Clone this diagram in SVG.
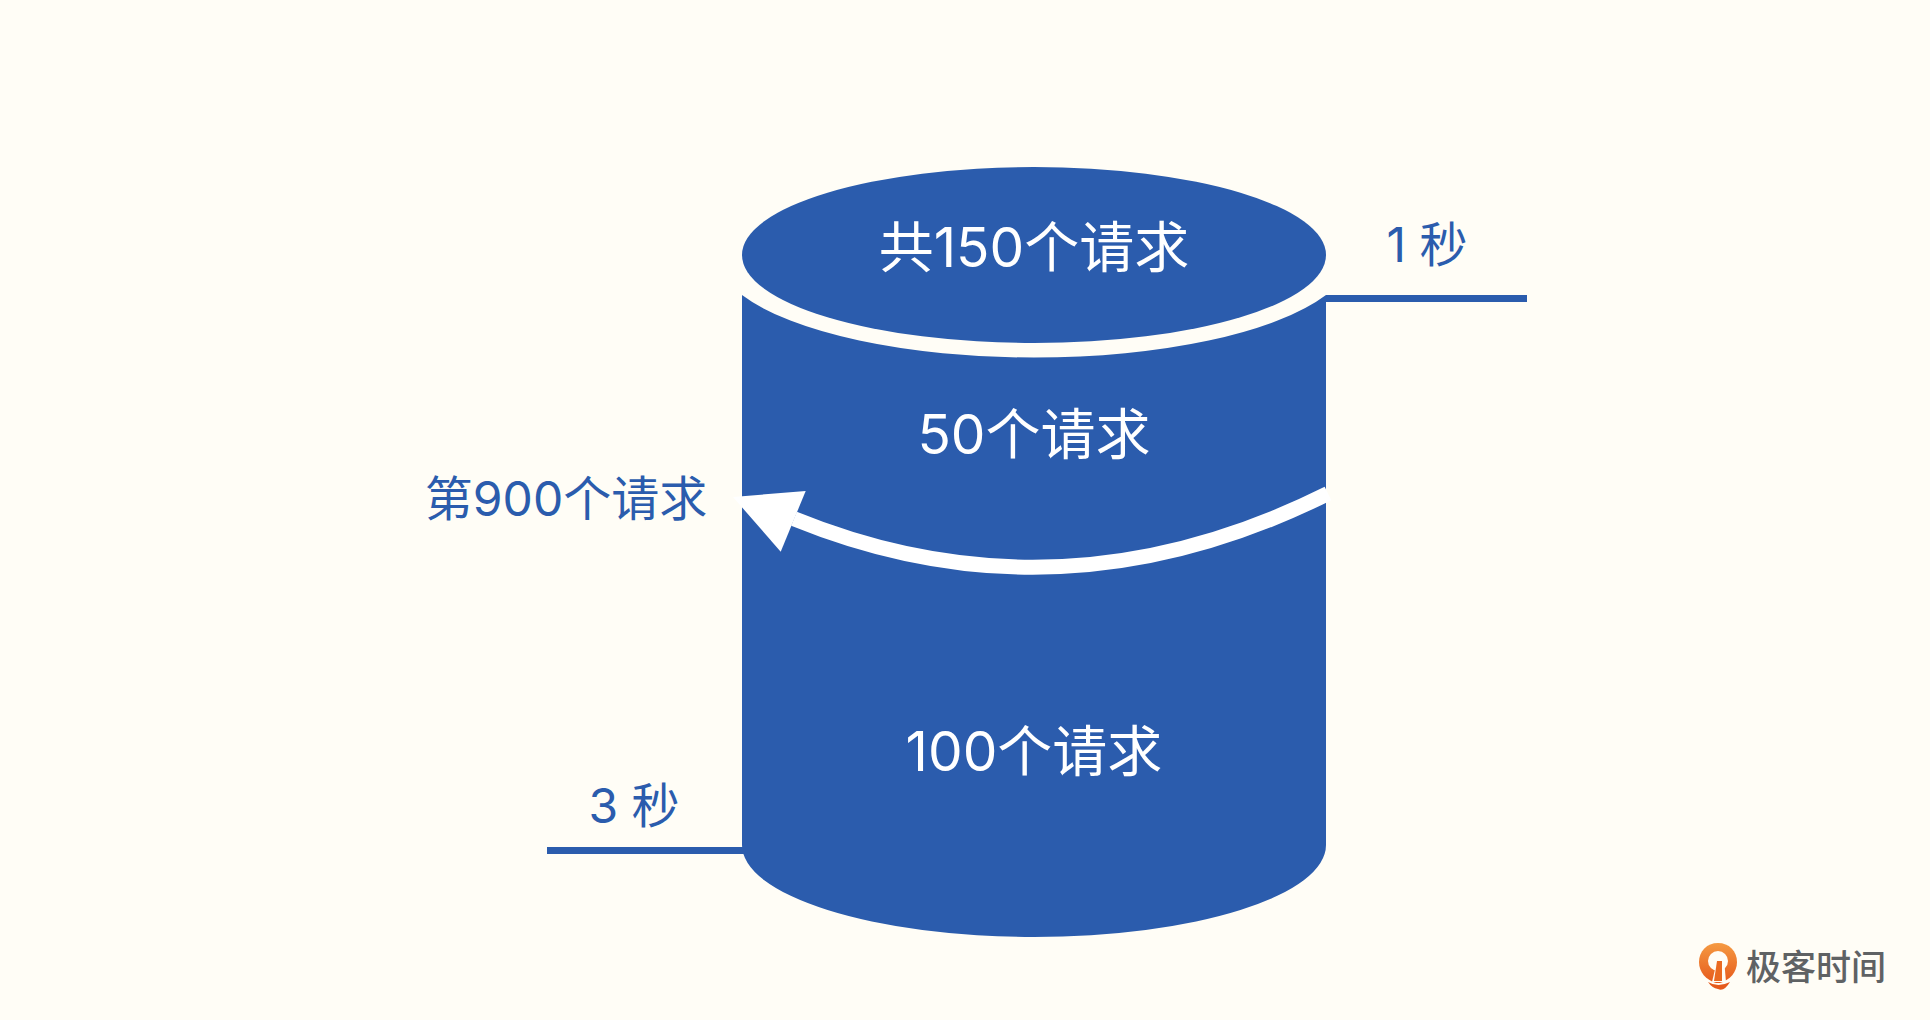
<svg xmlns="http://www.w3.org/2000/svg" width="1930" height="1020" viewBox="0 0 1930 1020">
  <style>
    .t { font-family: "Inter", "Noto Sans CJK SC", "Liberation Sans", sans-serif; text-anchor: middle; font-weight: 400; }
    .w { fill: #ffffff; font-size: 55px; }
    .b { fill: #2b5cad; font-size: 48px; }
    .blue { fill: #2b5cad; }
  </style>
  <defs>
    <linearGradient id="logoGrad" x1="0" y1="0" x2="0" y2="1">
      <stop offset="0" stop-color="#f59a42"/>
      <stop offset="1" stop-color="#e65a1c"/>
    </linearGradient>
  </defs>
  <rect id="background" width="1930" height="1020" fill="#fffdf6"/>

  <g id="cylinder-body">
    <path class="blue" d="M742 295 A318 103.5 0 0 0 1326 295 V845 A292 92 0 0 1 742 845 Z"/>
  </g>
  <g id="cylinder-top">
    <ellipse class="blue" cx="1034" cy="255" rx="292" ry="88"/>
    <text class="t w" x="1034" y="267">共150个请求</text>
  </g>
  <g id="segment-50">
    <text class="t w" x="1034" y="454">50个请求</text>
  </g>
  <g id="segment-100">
    <text class="t w" x="1034" y="771">100个请求</text>
  </g>
  <g id="label-900">
    <text class="t b" x="566" y="516">第900个请求</text>
  </g>
  <g id="label-1s">
    <text class="t b" x="1427" y="262" xml:space="preserve">1 秒</text>
  </g>
  <g id="label-3s">
    <text class="t b" x="634" y="823" xml:space="preserve">3 秒</text>
  </g>

  <g id="connectors">
    <path d="M1326 298.5 H1527" stroke="#2b5cad" stroke-width="7" fill="none"/>
    <path d="M547 850.5 H744" stroke="#2b5cad" stroke-width="7" fill="none"/>
    <path d="M1328 493.5 Q1060 627 794 518.7" stroke="#ffffff" stroke-width="15" fill="none"/>
    <path d="M733 497 L805.7 491 L780.7 551.7 Z" fill="#ffffff"/>
  </g>

  <g id="logo">
    <path d="M1718 943 C1707 943 1699 951 1699 962 C1699 972 1706 980 1716 983 L1720 983 C1730 980 1737 972 1737 962 C1737 951 1729 943 1718 943 Z" fill="url(#logoGrad)"/>
    <circle cx="1718" cy="961" r="10" fill="#fffdf6"/>
    <path d="M1712 982 L1717 961 L1724 959 L1726 982 Z" fill="#fffdf6"/>
    <path d="M1717 961 L1722 961 L1722 981 L1714 981 Z" fill="#ea6a22"/>
    <path d="M1708 982 Q1718 988 1730 982 Q1724 992 1718 989 Q1712 988 1708 982 Z" fill="#e65a1c"/>
    <text x="1816" y="980" text-anchor="middle" font-family="Noto Sans CJK SC, sans-serif" font-weight="500" font-size="35" fill="#5f6264">极客时间</text>
  </g>
</svg>
